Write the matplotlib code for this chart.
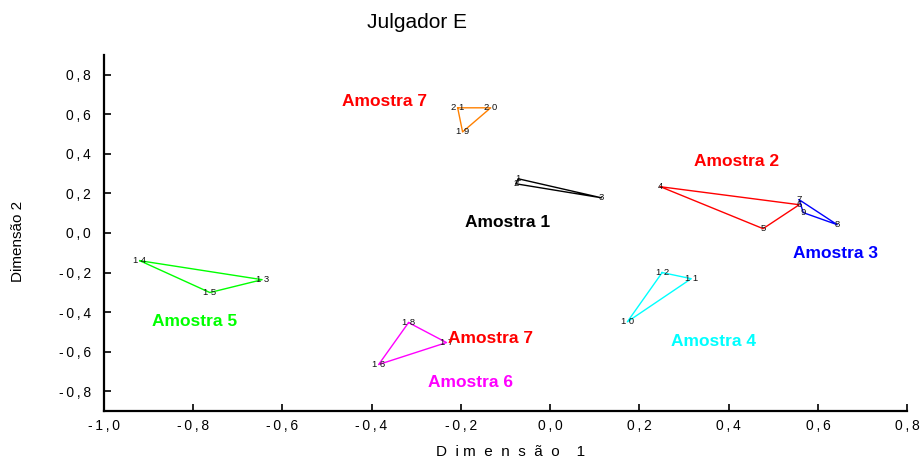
import matplotlib
matplotlib.use("Agg")
import matplotlib.pyplot as plt

plt.rcParams['font.family'] = ['Liberation Sans', 'DejaVu Sans']

# ---- data ----
groups = ["Amostra 1", "Amostra 7a", "Amostra 2", "Amostra 3", "Amostra 5", "Amostra 6", "Amostra 4"]
group_colors = ["#000000", "#FF8000", "#FF0000", "#0000FF", "#00FF00", "#FF00FF", "#00FFFF"]
point_ids = [[1, 2, 3], [21, 20, 19], [4, 6, 5], [7, 8, 9], [14, 13, 15], [18, 17, 16], [12, 11, 10]]
dim1 = [[-0.071, -0.077, 0.115],
        [-0.207, -0.133, -0.196],
        [0.247, 0.558, 0.477],
        [0.558, 0.643, 0.567],
        [-0.919, -0.645, -0.762],
        [-0.317, -0.232, -0.384],
        [0.251, 0.316, 0.173]]
dim2 = [[0.274, 0.249, 0.178],
        [0.633, 0.633, 0.511],
        [0.234, 0.143, 0.022],
        [0.168, 0.042, 0.103],
        [-0.140, -0.236, -0.301],
        [-0.453, -0.554, -0.665],
        [-0.200, -0.231, -0.449]]

label_texts = ["Amostra 1", "Amostra 7", "Amostra 2", "Amostra 3", "Amostra 5", "Amostra 7", "Amostra 4", "Amostra 6"]
label_colors = ["#000000", "#FF0000", "#FF0000", "#0000FF", "#00FF00", "#FF0000", "#00FFFF", "#FF00FF"]
label_x = [-0.095, -0.370, 0.417, 0.640, -0.796, -0.133, 0.367, -0.179]
label_y = [0.052, 0.663, 0.360, -0.105, -0.448, -0.534, -0.549, -0.755]

xticks = [-1.0, -0.8, -0.6, -0.4, -0.2, 0.0, 0.2, 0.4, 0.6, 0.8]
yticks = [-0.8, -0.6, -0.4, -0.2, 0.0, 0.2, 0.4, 0.6, 0.8]

TS = "\u2009"

def fmt(v):
    s = f"{v:.1f}".replace(".", ",")
    if s == "-0,0":
        s = "0,0"
    return TS.join(list(s))

fig = plt.figure(figsize=(9.21, 4.67), dpi=100)
ax = fig.add_axes([103.6 / 921, 56 / 467, (907.3 - 103.6) / 921, (411 - 55) / 467])

for xs, ys, ids, c in zip(dim1, dim2, point_ids, group_colors):
    ax.plot(list(xs) + [xs[0]], list(ys) + [ys[0]], color=c, lw=1.0)
    for x, y, i in zip(xs, ys, ids):
        ax.text(x, y, " ".join(str(i)), fontsize=6.8, color="#111111",
                ha="center", va="center")

for t, c, x, y in zip(label_texts, label_colors, label_x, label_y):
    ax.text(x, y, t, color=c, fontsize=12.5, fontweight="bold", ha="center", va="center")

ax.set_xlim(-1.0, 0.8)
ax.set_ylim(-0.9, 0.9)
ax.set_xticks(xticks)
ax.set_yticks(yticks)
ax.set_xticklabels([fmt(v) for v in xticks])
ax.set_yticklabels([fmt(v) for v in yticks])
ax.tick_params(direction="in", length=5, width=1.2, labelsize=10, color="black")
ax.tick_params(axis="x", pad=6)
ax.tick_params(axis="y", pad=9)
for s in ["top", "right"]:
    ax.spines[s].set_visible(False)
for s in ["left", "bottom"]:
    ax.spines[s].set_linewidth(1.6)

fig.text(416.7 / 921, 1 - 23 / 467, "Julgador E", fontsize=15, ha="center", va="center")
fig.text(17.5 / 921, 1 - 241 / 467, "Dimensão 2", fontsize=11, rotation=90, ha="center", va="center")
fig.text(511 / 921, 1 - 451.7 / 467, "D  i m  e  n  s  ã  o    1", fontsize=11, ha="center", va="center")

fig.savefig("out.png", dpi=100)
